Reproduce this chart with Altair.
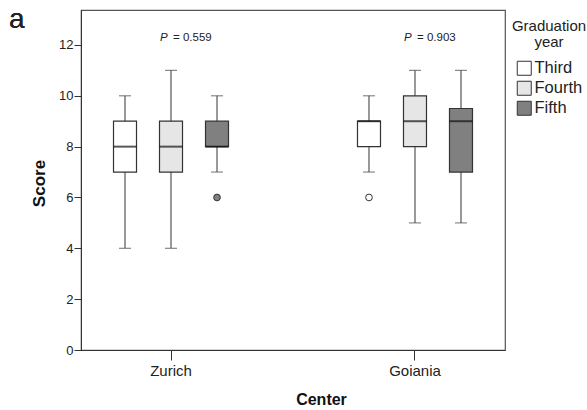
import altair as alt
import pandas as pd

FONT = "Liberation Sans"

centers = ["Zurich", "Goiania"]
years = ["Third", "Fourth", "Fifth"]
colors = ["#ffffff", "#e6e6e6", "#808080"]

box_center = ["Zurich", "Zurich", "Zurich", "Goiania", "Goiania", "Goiania"]
box_year = ["Third", "Fourth", "Fifth", "Third", "Fourth", "Fifth"]
w_low = [4, 4, 7, 7, 5, 5]
q1 = [7, 7, 8, 8, 8, 7]
median = [8, 8, 8, 9, 9, 9]
q3 = [9, 9, 9, 9, 10, 9.5]
w_high = [10, 11, 10, 10, 11, 11]

out_center = ["Zurich", "Goiania"]
out_year = ["Fifth", "Third"]
out_value = [6, 6]

p_center = ["Zurich", "Goiania"]
p_text = ["= 0.559", "= 0.903"]

boxes = pd.DataFrame({"Center": box_center, "Year": box_year, "lo": w_low,
                      "q1": q1, "med": median, "q3": q3, "hi": w_high})
outliers = pd.DataFrame({"Center": out_center, "Year": out_year, "v": out_value})
pvals = pd.DataFrame({"Center": p_center, "txt": p_text})

x_enc = alt.X("Center:N", sort=centers, title="Center",
              scale=alt.Scale(domain=centers, paddingInner=0.5, paddingOuter=0.1189),
              axis=alt.Axis(labelAngle=0, tickSize=10, labelPadding=3, labelFontSize=15,
                            titleFontSize=16, titleFontWeight="bold",
                            titleX=240, titleY=54, titleBaseline="alphabetic",
                            domainColor="#333333", tickColor="#333333",
                            labelColor="#222222", titleColor="#111111"))
xo_enc = alt.XOffset("Year:N", sort=years,
                     scale=alt.Scale(domain=years, paddingInner=0.5, paddingOuter=0.076))
y_scale = alt.Scale(domain=[0, 13.375], nice=False, zero=False)
y_axis = alt.Axis(values=[0, 2, 4, 6, 8, 10, 12], tickSize=7, labelPadding=1,
                  labelFontSize=13, grid=False, title="Score", titleFontSize=17,
                  titleFontWeight="bold", titleAngle=-90, titleX=-42, titleY=173,
                  titleAlign="center", titleBaseline="middle",
                  domainColor="#333333", tickColor="#333333",
                  labelColor="#222222", titleColor="#111111")

fill_scale = alt.Scale(domain=years, range=colors)

base = alt.Chart(boxes)

whisker = base.mark_rule(color="#555555", strokeWidth=1.2).encode(
    x=x_enc, xOffset=xo_enc,
    y=alt.Y("lo:Q", scale=y_scale, axis=y_axis), y2="hi:Q")

cap_lo = base.mark_tick(color="#555555", size=12, thickness=1.2).encode(
    x=x_enc, xOffset=xo_enc, y=alt.Y("lo:Q", scale=y_scale))
cap_hi = base.mark_tick(color="#555555", size=12, thickness=1.2).encode(
    x=x_enc, xOffset=xo_enc, y=alt.Y("hi:Q", scale=y_scale))

box = base.mark_bar(stroke="#333333", strokeWidth=1.2).encode(
    x=x_enc, xOffset=xo_enc,
    y=alt.Y("q1:Q", scale=y_scale), y2="q3:Q",
    fill=alt.Fill("Year:N", sort=years, scale=fill_scale,
                  legend=alt.Legend(title=["Graduation", "year"], orient="none",
                                    legendX=431, legendY=9, symbolType="square",
                                    symbolSize=196, symbolStrokeColor="#333333",
                                    symbolStrokeWidth=1, labelFontSize=16.5,
                                    titleFontSize=15, titleFontWeight="normal",
                                    titleAnchor="middle", titleAlign="center",
                                    titleLineHeight=16, titlePadding=10,
                                    rowPadding=1, labelOffset=2, padding=0,
                                    labelColor="#222222", titleColor="#222222")))

med = base.mark_tick(color="#111111", size=23, thickness=2).encode(
    x=x_enc, xOffset=xo_enc, y=alt.Y("med:Q", scale=y_scale))

pts = alt.Chart(outliers).mark_point(shape="circle", size=45, filled=True,
                                     stroke="#333333", strokeWidth=1, opacity=1).encode(
    x=x_enc, xOffset=xo_enc, y=alt.Y("v:Q", scale=y_scale),
    fill=alt.Fill("Year:N", sort=years, scale=fill_scale, legend=None))

p_it = alt.Chart(pvals).mark_text(text="P", fontStyle="italic", fontSize=11.5,
                                  align="left", baseline="middle", dx=-11,
                                  color="#222222").encode(
    x=x_enc, y=alt.value(28))
p_rest = alt.Chart(pvals).mark_text(fontSize=11.5, align="left", baseline="middle",
                                    dx=2, color="#222222").encode(
    x=x_enc, y=alt.value(28), text="txt:N")

letter = alt.Chart(pvals).mark_text(text="a", fontSize=28, align="left",
                                    baseline="alphabetic", color="#222222").encode(
    x=alt.value(-72), y=alt.value(18))

chart = alt.layer(whisker, cap_lo, cap_hi, box, med, pts, p_it, p_rest, letter).properties(
    width=424, height=340,
    autosize=alt.AutoSizeParams(type="none"),
    padding={"left": 81, "top": 10, "right": 82, "bottom": 60},
).configure(font=FONT).configure_view(stroke="#555555", strokeWidth=1.2)

chart.save("out.html", embed_options={"renderer": "svg", "actions": False})
